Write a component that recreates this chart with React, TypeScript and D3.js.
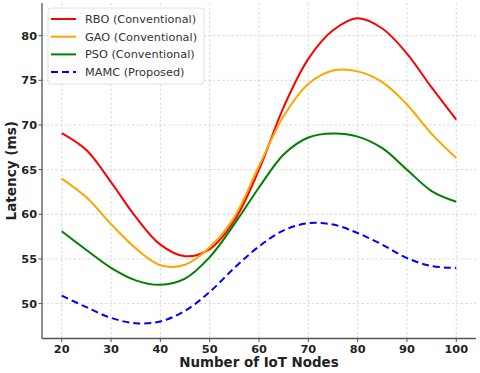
import * as d3 from 'd3';

const nodes = [20, 25, 30, 35, 40, 45, 50, 55, 60, 65, 70, 75, 80, 85, 90, 95, 100];
const rbo = [69.1, 67.2, 63.6, 59.7, 56.6, 55.3, 56.1, 59.3, 65.0, 72.0, 77.4, 80.6, 81.95, 80.8, 78.0, 74.2, 70.6];
const gao = [64.0, 61.9, 58.9, 56.2, 54.3, 54.35, 56.3, 59.7, 65.4, 71.0, 74.6, 76.1, 76.0, 74.8, 72.3, 69.0, 66.3];
const pso = [58.1, 56.0, 54.0, 52.6, 52.1, 52.8, 55.2, 58.9, 63.0, 66.7, 68.6, 69.05, 68.7, 67.4, 65.0, 62.6, 61.4];
const mamc = [50.9, 49.6, 48.4, 47.8, 48.0, 49.2, 51.3, 54.0, 56.4, 58.2, 59.0, 58.85, 57.9, 56.6, 55.1, 54.2, 54.0];

const seriesNames = ['RBO (Conventional)', 'GAO (Conventional)', 'PSO (Conventional)', 'MAMC (Proposed)'];
const seriesColors = ['#ff0000', '#ffa500', '#008000', '#0000ff'];
const seriesValues = [rbo, gao, pso, mamc];

const xTicks = [20, 30, 40, 50, 60, 70, 80, 90, 100];
const yTicks = [50, 55, 60, 65, 70, 75, 80];

const W = 480;
const H = 373;
const left = 42;
const right = 476;
const top = 3;
const bottom = 338.5;
const font = 'DejaVu Sans, sans-serif';

export default function App() {
  const xPad = (d3.max(nodes)! - d3.min(nodes)!) * 0.05;
  const x = d3
    .scaleLinear()
    .domain([d3.min(nodes)! - xPad, d3.max(nodes)! + xPad])
    .range([left, right]);

  const all = seriesValues.flat();
  const lo = d3.min(all)!;
  const hi = d3.max(all)!;
  const yPad = (hi - lo) * 0.05;
  const y = d3
    .scaleLinear()
    .domain([lo - yPad, hi + yPad])
    .range([bottom, top]);

  const line = d3
    .line<number>()
    .x((_, i) => x(nodes[i]))
    .y(d => y(d))
    .curve(d3.curveCatmullRom.alpha(0.5));

  const legendX = 48;
  const legendY = 8;
  const rowH = 17.7;

  return (
    <svg
      width={W}
      height={H}
      style={{ position: 'absolute', left: 0, top: 0, background: '#fff' }}
      fontFamily={font}
    >
      {/* grid */}
      <g stroke="#d0d0d0" strokeWidth={0.8} strokeDasharray="2.5,2">
        {xTicks.map(t => (
          <line key={'gx' + t} x1={x(t)} x2={x(t)} y1={top} y2={bottom} />
        ))}
        {yTicks.map(t => (
          <line key={'gy' + t} x1={left} x2={right} y1={y(t)} y2={y(t)} />
        ))}
      </g>

      {/* series */}
      {seriesValues.map((vals, i) => (
        <path
          key={seriesNames[i]}
          d={line(vals) ?? ''}
          fill="none"
          stroke={seriesColors[i]}
          strokeWidth={2}
          strokeDasharray={i === 3 ? '7,4' : undefined}
        />
      ))}

      {/* spines */}
      <g stroke="#555" strokeWidth={1.3}>
        <line x1={left} x2={left} y1={top} y2={bottom} />
        <line x1={left} x2={right} y1={bottom} y2={bottom} />
      </g>

      {/* x ticks */}
      {xTicks.map(t => (
        <g key={'xt' + t}>
          <line x1={x(t)} x2={x(t)} y1={bottom} y2={bottom + 3.5} stroke="#555" strokeWidth={1} />
          <text
            x={x(t)}
            y={bottom + 14}
            textAnchor="middle"
            fontSize={11.3}
            fontWeight="bold"
            fill="#222"
          >
            {t}
          </text>
        </g>
      ))}

      {/* y ticks */}
      {yTicks.map(t => (
        <g key={'yt' + t}>
          <line x1={left - 3.5} x2={left} y1={y(t)} y2={y(t)} stroke="#555" strokeWidth={1} />
          <text
            x={left - 5}
            y={y(t)}
            dy="0.36em"
            textAnchor="end"
            fontSize={11.3}
            fontWeight="bold"
            fill="#222"
          >
            {t}
          </text>
        </g>
      ))}

      {/* axis titles */}
      <text
        x={(left + right) / 2}
        y={367}
        textAnchor="middle"
        fontSize={13.4}
        fontWeight="bold"
        fill="#222"
      >
        Number of IoT Nodes
      </text>
      <text
        transform={`translate(16,${(top + bottom) / 2}) rotate(-90)`}
        textAnchor="middle"
        fontSize={13.6}
        fontWeight="bold"
        fill="#222"
      >
        Latency (ms)
      </text>

      {/* legend */}
      <rect
        x={legendX}
        y={legendY}
        width={156}
        height={76}
        rx={3}
        fill="#fff"
        fillOpacity={0.85}
        stroke="#d8d8d8"
        strokeWidth={0.8}
      />
      {seriesNames.map((name, i) => {
        const cy = legendY + 11 + i * rowH;
        return (
          <g key={'lg' + name}>
            <line
              x1={legendX + 3}
              x2={legendX + 28}
              y1={cy}
              y2={cy}
              stroke={seriesColors[i]}
              strokeWidth={2}
              strokeDasharray={i === 3 ? '7,4' : undefined}
            />
            <text x={legendX + 37} y={cy} dy="0.36em" fontSize={11.3} fill="#333">
              {name}
            </text>
          </g>
        );
      })}
    </svg>
  );
}
